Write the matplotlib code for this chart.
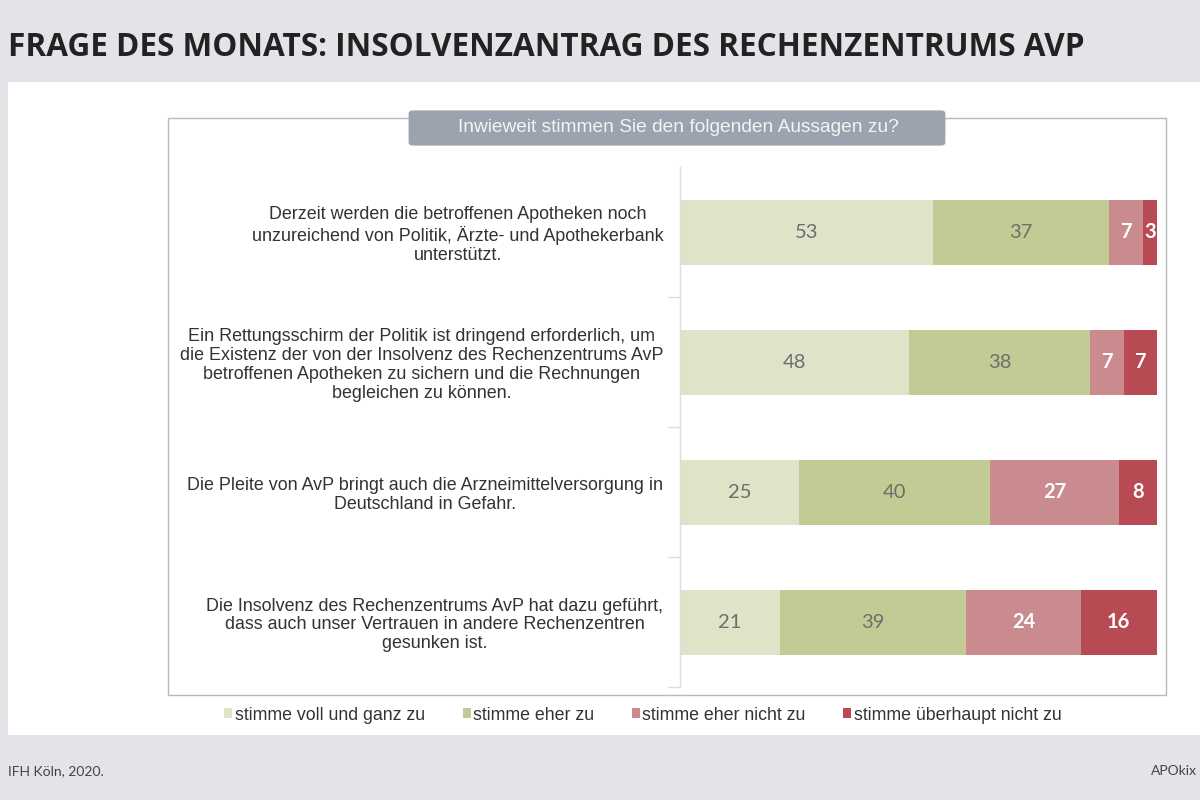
import matplotlib
matplotlib.use("Agg")
import matplotlib.pyplot as plt
from matplotlib.patches import Rectangle, FancyBboxPatch, Patch
import numpy as np

W, H = 1200, 800

statements = [
    "Derzeit werden die betroffenen Apotheken noch\nunzureichend von Politik, Ärzte- und Apothekerbank\nunterstützt.",
    "Ein Rettungsschirm der Politik ist dringend erforderlich, um\ndie Existenz der von der Insolvenz des Rechenzentrums AvP\nbetroffenen Apotheken zu sichern und die Rechnungen\nbegleichen zu können.",
    "Die Pleite von AvP bringt auch die Arzneimittelversorgung in\nDeutschland in Gefahr.",
    "Die Insolvenz des Rechenzentrums AvP hat dazu geführt,\ndass auch unser Vertrauen in andere Rechenzentren\ngesunken ist.",
]
series_names = ["stimme voll und ganz zu", "stimme eher zu",
                "stimme eher nicht zu", "stimme überhaupt nicht zu"]
voll = [53, 48, 25, 21]
eher = [37, 38, 40, 39]
eher_nicht = [7, 7, 27, 24]
gar_nicht = [3, 7, 8, 16]

colors = ["#dfe3c8", "#c2cb93", "#c98b8e", "#b84a53"]
label_colors = ["#6e6e6e", "#6e6e6e", "white", "white"]
label_weights = ["normal", "normal", "bold", "bold"]

title = "FRAGE DES MONATS: INSOLVENZANTRAG DES RECHENZENTRUMS AVP"
question = "Inwieweit stimmen Sie den folgenden Aussagen zu?"
source = "IFH Köln, 2020."
brand = "APOkix"

fig = plt.figure(figsize=(12, 8), dpi=100)
fig.patch.set_facecolor("#e2e4e7")

def fx(x): return x / W
def fy(y): return 1 - y / H

# white panel
fig.patches.append(Rectangle((fx(8), fy(735)), fx(1200 - 8), (735 - 82) / H,
                             transform=fig.transFigure, facecolor="white",
                             edgecolor="none", zorder=0))
# inner frame
fig.patches.append(Rectangle((fx(168), fy(695)), fx(1166 - 168), (695 - 118) / H,
                             transform=fig.transFigure, facecolor="white",
                             edgecolor="#b5b9bd", linewidth=1.0, zorder=0.5))
# question box
fig.patches.append(FancyBboxPatch((fx(411), fy(144)), fx(947 - 411 - 4), (144 - 112) / H,
                                  boxstyle="round,pad=0.002,rounding_size=0.004",
                                  transform=fig.transFigure, facecolor="#9aa3ae",
                                  edgecolor="none", zorder=1))
fig.text(fx(678), fy(128), question, ha="center", va="center", color="#f4f4f4",
         fontsize=13.8, family="Liberation Sans", zorder=2)

fig.text(fx(8), fy(47), title, ha="left", va="center", fontsize=22.7,
         fontweight="bold", family="Open Sans", color="#222222")
fig.text(fx(8), fy(771), source, ha="left", va="center", fontsize=10,
         family="Lato", color="#444444")
fig.text(fx(1151), fy(771), brand, ha="left", va="center", fontsize=10,
         family="Lato", color="#444444")

ax = fig.add_axes([fx(680), fy(687), fx(1157 - 680), (687 - 167) / H])
ax.set_zorder(3)
ax.set_facecolor("none")
y = np.arange(len(statements))
data = [voll, eher, eher_nicht, gar_nicht]
left = np.zeros(len(statements))
for vals, c, lc, lw, name in zip(data, colors, label_colors, label_weights, series_names):
    vals = np.array(vals, dtype=float)
    ax.barh(y, vals, left=left, height=0.5, color=c, edgecolor="none", label=name)
    for yi, (l, v) in enumerate(zip(left, vals)):
        ax.text(l + v / 2, yi, f"{int(v)}", ha="center", va="center",
                color=lc, fontsize=14.5, fontweight=lw, family="Lato")
    left += vals

ax.set_xlim(0, 100)
ax.set_ylim(3.5, -0.5)
ax.set_xticks([])
ax.set_yticks(y)
ax.set_yticklabels(statements, fontsize=12.9, family="Liberation Sans", color="#333333",
                   linespacing=1.15)
for lbl in ax.get_yticklabels():
    lbl.set_multialignment("center")
ax.tick_params(axis="y", which="major", length=0, pad=12)
ax.set_yticks([0.5, 1.5, 2.5, 3.5], minor=True)
ax.tick_params(axis="y", which="minor", length=9, color="#dddddd", width=1)
for s in ["top", "right", "bottom"]:
    ax.spines[s].set_visible(False)
ax.spines["left"].set_color("#dddddd")
ax.spines["left"].set_linewidth(1)

handles = [Patch(facecolor=c, edgecolor="none", label=n) for c, n in zip(colors, series_names)]
leg = fig.legend(handles=handles, loc="center", bbox_to_anchor=(fx(643), fy(715)), ncol=4,
                 frameon=False, handlelength=0.45, handleheight=0.45,
                 handletextpad=0.15, columnspacing=2.1,
                 prop={"family": "Liberation Sans", "size": 12.8})
for t in leg.get_texts():
    t.set_color("#333333")
leg.set_zorder(4)

fig.savefig("out.png", dpi=100, facecolor=fig.get_facecolor())
